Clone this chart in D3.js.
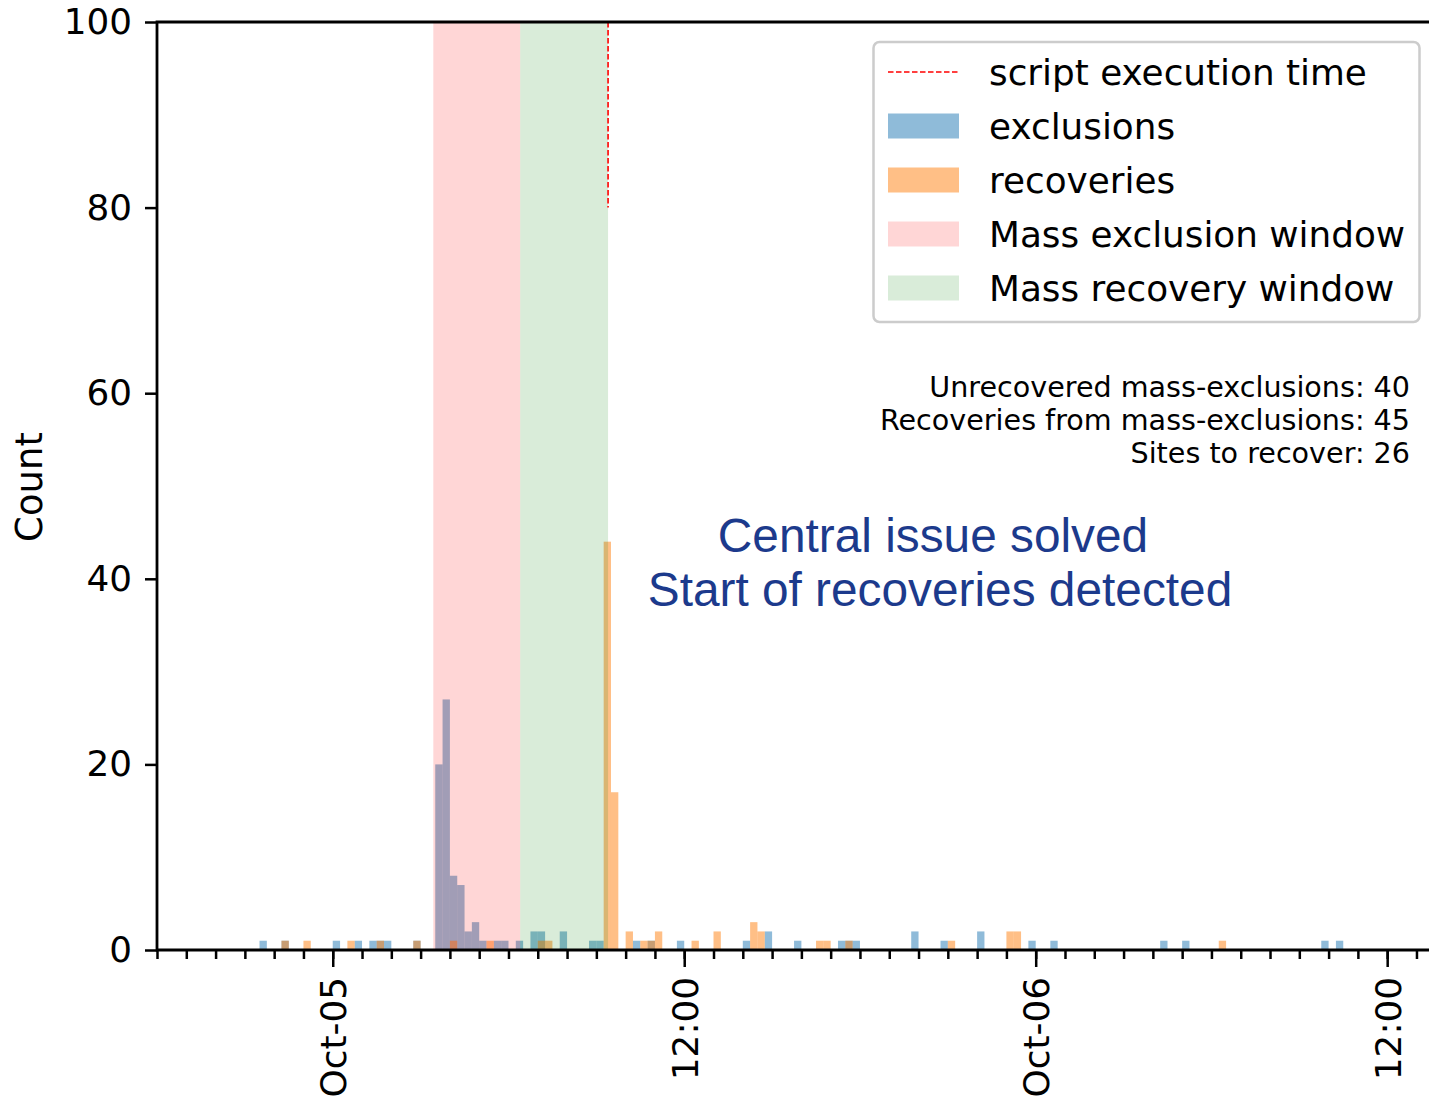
<!DOCTYPE html>
<html>
<head>
<meta charset="utf-8">
<script src="https://cdn.jsdelivr.net/npm/d3@7"></script>
<style>
  html, body { margin: 0; padding: 0; background: #fff; }
  svg { display: block; font-family: "DejaVu Sans", sans-serif; }
</style>
</head>
<body>
<svg id="chart" width="1429" height="1101"></svg>
<script>
// 15-minute histogram bins (bin start, UTC)
const binMinutes = 15;

const exclusionTimes = [
  "2021-10-04 21:30", "2021-10-04 22:15", "2021-10-05 00:00", "2021-10-05 00:45",
  "2021-10-05 01:15", "2021-10-05 01:30", "2021-10-05 01:45", "2021-10-05 02:45",
  "2021-10-05 03:30", "2021-10-05 03:45", "2021-10-05 04:00", "2021-10-05 04:15",
  "2021-10-05 04:30", "2021-10-05 04:45", "2021-10-05 05:00", "2021-10-05 05:30",
  "2021-10-05 05:45", "2021-10-05 06:15", "2021-10-05 06:45", "2021-10-05 07:00",
  "2021-10-05 07:45", "2021-10-05 08:45", "2021-10-05 09:00", "2021-10-05 10:15",
  "2021-10-05 10:45", "2021-10-05 11:45", "2021-10-05 14:00", "2021-10-05 14:45",
  "2021-10-05 15:45", "2021-10-05 17:15", "2021-10-05 17:30", "2021-10-05 17:45",
  "2021-10-05 19:45", "2021-10-05 20:45", "2021-10-05 22:00", "2021-10-05 23:45",
  "2021-10-06 00:30", "2021-10-06 04:15", "2021-10-06 05:00", "2021-10-06 09:45",
  "2021-10-06 10:15"
];
const exclusionCounts = [
  1, 1, 1, 1,
  1, 1, 1, 1,
  20, 27, 8, 7,
  2, 3, 1, 1,
  1, 1, 2, 2,
  2, 1, 1, 1,
  1, 1, 1, 2,
  1, 1, 1, 1,
  2, 1, 2, 1,
  1, 1, 1, 1,
  1
];

const recoveryTimes = [
  "2021-10-04 22:15", "2021-10-04 23:00", "2021-10-05 00:30", "2021-10-05 01:30",
  "2021-10-05 02:45", "2021-10-05 04:00", "2021-10-05 05:15", "2021-10-05 07:00",
  "2021-10-05 07:15", "2021-10-05 09:15", "2021-10-05 09:30", "2021-10-05 10:00",
  "2021-10-05 10:30", "2021-10-05 10:45", "2021-10-05 11:00", "2021-10-05 12:15",
  "2021-10-05 13:00", "2021-10-05 14:15", "2021-10-05 14:30", "2021-10-05 16:30",
  "2021-10-05 16:45", "2021-10-05 17:30", "2021-10-05 21:00", "2021-10-05 23:00",
  "2021-10-05 23:15", "2021-10-06 06:15"
];
const recoveryCounts = [
  1, 1, 1, 1,
  1, 1, 1, 1,
  1, 44, 17, 2,
  1, 1, 2, 1,
  2, 3, 2, 1,
  1, 1, 1, 2,
  2, 1
];

// Windows and script execution time
const massExclusionWindow = ["2021-10-05 03:26", "2021-10-05 06:24"];
const massRecoveryWindow  = ["2021-10-05 06:24", "2021-10-05 09:24"];
const scriptExecutionTime = "2021-10-05 09:24";
const scriptLineRange = [80, 100];

const yTicks = [0, 20, 40, 60, 80, 100];
const legendLabels = ["script execution time", "exclusions", "recoveries",
                      "Mass exclusion window", "Mass recovery window"];
const statLines = ["Unrecovered mass-exclusions: 40",
                   "Recoveries from mass-exclusions: 45",
                   "Sites to recover: 26"];
const noteLines = ["Central issue solved", "Start of recoveries detected"];

const parse = d3.utcParse("%Y-%m-%d %H:%M");
const exclusions = exclusionTimes.map((t, i) => ({ t: parse(t), v: exclusionCounts[i] }));
const recoveries = recoveryTimes.map((t, i) => ({ t: parse(t), v: recoveryCounts[i] }));

const svg = d3.select("#chart");
const plotLeft = 157, plotTop = 22, plotBottom = 950;
const fontSize = "35.8px";

const x = d3.scaleUtc()
  .domain([parse("2021-10-04 18:00"), parse("2021-10-06 14:00")])
  .range([plotLeft, plotLeft + 44 * 29.29]);
const y = d3.scaleLinear().domain([0, 100]).range([plotBottom, plotTop]);
const plotRight = x.range()[1];

const blue = "#1f77b4", orange = "#ff7f0e";
const binEnd = d => d3.utcMinute.offset(d.t, binMinutes);

// histogram bars: exclusions first, recoveries drawn over them
function drawBars(data, color) {
  svg.append("g").selectAll("rect").data(data).join("rect")
    .attr("x", d => x(d.t))
    .attr("width", d => x(binEnd(d)) - x(d.t))
    .attr("y", d => y(d.v))
    .attr("height", d => y(0) - y(d.v))
    .attr("fill", color)
    .attr("fill-opacity", 0.5);
}
drawBars(exclusions, blue);
drawBars(recoveries, orange);

// shaded windows
const spans = [
  { r: massExclusionWindow, c: "red", a: 0.16 },
  { r: massRecoveryWindow, c: "green", a: 0.15 }
];
svg.append("g").selectAll("rect").data(spans).join("rect")
  .attr("x", d => x(parse(d.r[0])))
  .attr("width", d => x(parse(d.r[1])) - x(parse(d.r[0])))
  .attr("y", y(100))
  .attr("height", y(0) - y(100))
  .attr("fill", d => d.c)
  .attr("fill-opacity", d => d.a);

// script execution marker
svg.append("line")
  .attr("x1", x(parse(scriptExecutionTime))).attr("x2", x(parse(scriptExecutionTime)))
  .attr("y1", y(scriptLineRange[1])).attr("y2", y(scriptLineRange[0]))
  .attr("stroke", "red").attr("stroke-width", 1.6)
  .attr("stroke-dasharray", "5.5,2.5");

// axes
const tickStroke = 2.5;
const yAxis = svg.append("g").attr("transform", `translate(${plotLeft},0)`)
  .call(d3.axisLeft(y).tickValues(yTicks).tickSize(12).tickSizeOuter(0).tickPadding(13));
const xMinor = svg.append("g").attr("transform", `translate(0,${plotBottom})`)
  .call(d3.axisBottom(x).ticks(d3.utcHour.every(1)).tickSize(9).tickSizeOuter(0).tickFormat(""));
const fmtDay = d3.utcFormat("%b-%d"), fmtHour = d3.utcFormat("%H:%M");
const xMajor = svg.append("g").attr("transform", `translate(0,${plotBottom})`)
  .call(d3.axisBottom(x).ticks(d3.utcHour.every(12)).tickSize(17).tickSizeOuter(0)
    .tickFormat(d => d.getUTCHours() === 0 ? fmtDay(d) : fmtHour(d)));

[yAxis, xMinor, xMajor].forEach(g => {
  g.select(".domain").remove();
  g.selectAll(".tick line").attr("stroke", "#000").attr("stroke-width", tickStroke);
  g.selectAll(".tick text").attr("fill", "#000").style("font-size", fontSize)
    .style("font-family", "DejaVu Sans");
});
xMajor.selectAll(".tick text")
  .attr("transform", "rotate(-90)")
  .attr("text-anchor", "end")
  .attr("x", -27).attr("y", 0).attr("dy", "0.36em");

// spines
const spine = svg.append("g").attr("stroke", "#000").attr("stroke-width", 2.8)
  .attr("stroke-linecap", "square").attr("fill", "none");
spine.append("path").attr("d", `M${plotRight},${plotTop}H${plotLeft}V${plotBottom}H${plotRight}`);

// y label
svg.append("text")
  .attr("transform", `translate(42,487) rotate(-90)`)
  .attr("text-anchor", "middle")
  .style("font-size", "37px")
  .text("Count");

// legend
const lg = svg.append("g");
lg.append("rect")
  .attr("x", 873.5).attr("y", 42).attr("width", 546).attr("height", 280)
  .attr("rx", 6).attr("fill", "#fff").attr("fill-opacity", 0.8)
  .attr("stroke", "#cccccc").attr("stroke-width", 2.5);
const rowY = i => 72 + i * 54;
lg.append("line")
  .attr("x1", 888).attr("x2", 959).attr("y1", rowY(0)).attr("y2", rowY(0))
  .attr("stroke", "red").attr("stroke-width", 1.6).attr("stroke-dasharray", "5.5,2.5");
const patches = [
  { c: blue, a: 0.5 }, { c: orange, a: 0.5 }, { c: "red", a: 0.16 }, { c: "green", a: 0.15 }
];
lg.selectAll("rect.patch").data(patches).join("rect")
  .attr("class", "patch")
  .attr("x", 888).attr("width", 71)
  .attr("y", (d, i) => rowY(i + 1) - 12.5).attr("height", 25)
  .attr("fill", d => d.c).attr("fill-opacity", d => d.a);
lg.selectAll("text").data(legendLabels).join("text")
  .attr("x", 989).attr("y", (d, i) => rowY(i)).attr("dy", "0.36em")
  .style("font-size", fontSize)
  .text(d => d);

// summary statistics
svg.append("g").selectAll("text").data(statLines).join("text")
  .attr("x", 1410).attr("y", (d, i) => 397 + i * 33)
  .attr("text-anchor", "end")
  .style("font-size", "28.6px")
  .text(d => d);

// annotation
const noteX = [933, 940];
svg.append("g").selectAll("text").data(noteLines).join("text")
  .attr("x", (d, i) => noteX[i]).attr("y", (d, i) => 552 + i * 54)
  .attr("text-anchor", "middle")
  .style("font-family", "Liberation Sans, Arial, sans-serif")
  .style("font-size", "47.8px")
  .attr("fill", "#1c3a8c")
  .text(d => d);
</script>
</body>
</html>
